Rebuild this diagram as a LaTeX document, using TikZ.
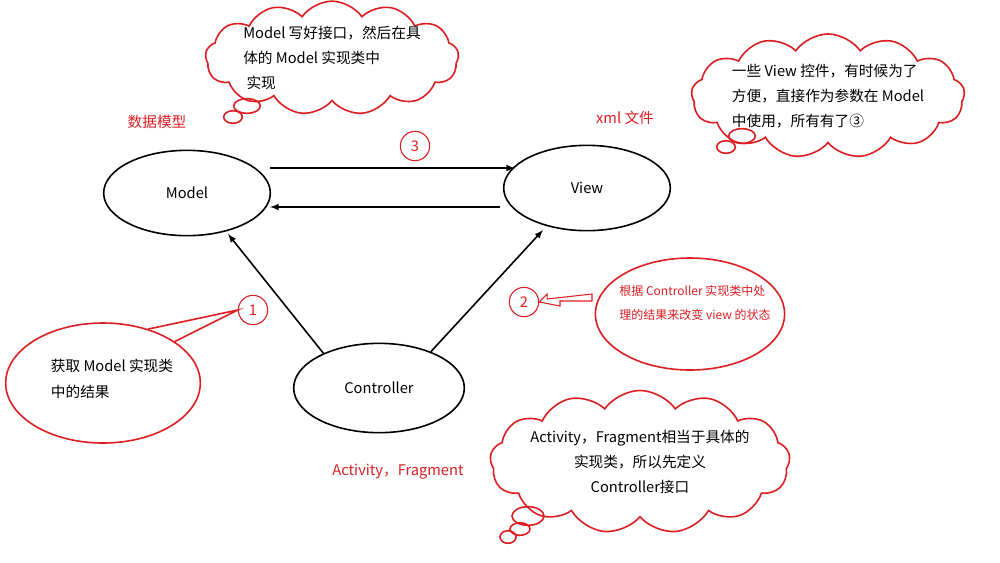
\documentclass[tikz,border=0pt]{standalone}
\usepackage{fontspec}
\setmainfont{Noto Sans CJK SC}
\usetikzlibrary{shapes.symbols,shapes.geometric}
\definecolor{penred}{RGB}{220,30,35}
\tikzset{
  mvc/.style={draw, very thick, ellipse, minimum width=125pt, minimum height=64pt, font=\fontsize{11}{13}\selectfont},
  flow/.style={very thick, -latex},
  marker/.style={draw=penred, thick, circle, minimum size=22pt, inner sep=0pt, text=penred, font=\fontsize{11}{13}\selectfont},
  thought/.style={draw=penred, very thick, cloud, cloud puffs=13, cloud puff arc=110, aspect=2.6, inner sep=-6pt, fill=white, align=left, font=\fontsize{11}{19}\selectfont},
  bubble/.style={draw=penred, very thick, ellipse},
  note/.style={text=penred, font=\fontsize{11}{13}\selectfont},
}
\begin{document}
\begin{tikzpicture}[x=0.75pt, y=-0.75pt]
\useasboundingbox (0,0) rectangle (1000,562);

% three parts
\node[mvc] (model) at (187,193) {Model};
\node[mvc] (view) at (587,188) {View};
\node[mvc, minimum width=128pt, minimum height=67pt] (ctrl) at (379,388) {Controller};

\draw[flow] (270,168) -- (515,168);
\draw[flow] (500,207) -- (270,207);
\draw[flow] (ctrl.148) -- (228,234);
\draw[flow] (ctrl.35) -- (543,230);

% markers
\node[marker] (m3) at (415,146) {3};
\node[marker] (m1) at (253,310) {1};
\node[marker] (m2) at (524,302) {2};

% labels
\node[note] (lmodel) at (157,122) {数据模型};
\node[note] (lview) at (625,118) {xml 文件};
\node[note] (lctrl) at (398,472) {Activity，Fragment};

% note 1
\node[draw=penred, very thick, ellipse, minimum width=146pt, minimum height=90pt] (n1) at (103,383) {};
\draw[penred, very thick] (n1.50) -- (m1.west) -- (n1.30);
\node[align=left, font=\fontsize{11}{19}\selectfont] at (112,379) {获取 Model 实现类\\中的结果};

% note 2
\node[draw=penred, very thick, ellipse, minimum width=142pt, minimum height=84pt] (n2) at (690,314) {};
\node[note, align=left, font=\fontsize{9}{18}\selectfont] at (695,303) {根据 Controller 实现类中处\\理的结果来改变 view 的状态};
\draw[penred, thick] (m2.east) -- ++(8,-8) -- ++(0,5) -- (592,294) -- (592,301) -- ++(-32,0) -- ++(0,5) -- cycle;

% clouds
\node[thought, minimum width=190pt, minimum height=75pt] (c1) at (332,58) {Model 写好接口，然后在具\\体的 Model 实现类中\\\ 实现};
\node[bubble, minimum width=20pt, minimum height=11pt] at (247,106) {};
\node[bubble, minimum width=14pt, minimum height=8pt] at (233,117) {};

\node[thought, minimum width=205pt, minimum height=75pt] (c2) at (828,96) {一些 View 控件，有时候为了\\方便，直接作为参数在 Model\\中使用，所有有了③};
\node[bubble, minimum width=20pt, minimum height=11pt] at (742,136) {};
\node[bubble, minimum width=14pt, minimum height=8pt] at (726,147) {};

\node[thought, minimum width=225pt, minimum height=85pt, align=center] (c3) at (640,462) {Activity，Fragment相当于具体的\\实现类，所以先定义\qquad\quad\\Controller接口};
\node[bubble, minimum width=24pt, minimum height=14pt] at (528,516) {};
\node[bubble, minimum width=15pt, minimum height=9pt] at (520,529) {};
\node[bubble, minimum width=12pt, minimum height=7pt] at (508,537) {};
\end{tikzpicture}
\end{document}
